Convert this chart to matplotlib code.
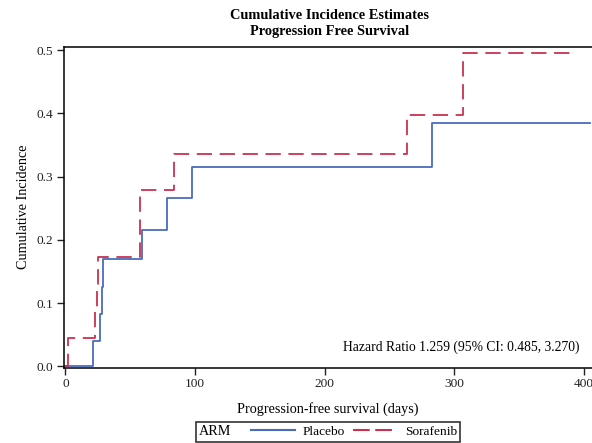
import matplotlib
matplotlib.use('Agg')
import matplotlib.pyplot as plt
from matplotlib.lines import Line2D
from matplotlib.offsetbox import HPacker

plt.rcParams['font.family'] = ['Liberation Serif', 'DejaVu Serif']
plt.rcParams['lines.scale_dashes'] = False

# cumulative incidence step points (days, estimate)
placebo_t = [0, 21, 26.6, 28, 29, 59.3, 78, 97.5, 282.8, 405]
placebo_ci = [0, 0.04, 0.082, 0.125, 0.169, 0.215, 0.266, 0.315, 0.385, 0.385]
sora_t = [0, 1.7, 22.8, 24, 25.3, 57.5, 83.8, 263.5, 307.2, 394.7]
sora_ci = [0, 0.044, 0.087, 0.13, 0.173, 0.278, 0.335, 0.398, 0.495, 0.495]

x_ticks = [0, 100, 200, 300, 400]
y_ticks = [0.0, 0.1, 0.2, 0.3, 0.4, 0.5]

blue = '#4a6cc0'
red = '#c8324e'
dash = (0, (11, 5.5))

fig = plt.figure(figsize=(5.92, 4.43), dpi=100)
ax = fig.add_axes([0.108, 0.1704, 0.892, 0.7236])

ax.step(placebo_t, placebo_ci, where='post', color=blue, lw=1.3)
ax.step(sora_t, sora_ci, where='post', color=red, lw=1.3, linestyle=dash)

ax.set_xlim(-1.2, 406.5)
ax.set_ylim(-0.002, 0.505)
ax.set_xticks(x_ticks)
ax.set_yticks(y_ticks)
ax.set_yticklabels([f'{v:.1f}' for v in y_ticks])
ax.tick_params(direction='out', length=5, width=1, labelsize=9.6, colors='#222222',
               pad=2.5)
for s in ['left', 'bottom', 'top']:
    ax.spines[s].set_linewidth(1.1)
ax.spines['right'].set_visible(False)

ax.set_xlabel('Progression-free survival (days)', fontsize=10.2, labelpad=9)
ax.set_ylabel('Cumulative Incidence', fontsize=10.2, labelpad=5)

fig.text(0.556, 0.964, 'Cumulative Incidence Estimates', ha='center', va='center',
         fontsize=10.4, fontweight='bold')
fig.text(0.556, 0.928, 'Progression Free Survival', ha='center', va='center',
         fontsize=10.4, fontweight='bold')

ax.text(0.977, 0.063, 'Hazard Ratio 1.259 (95% CI: 0.485, 3.270)', transform=ax.transAxes,
        ha='right', va='center', fontsize=9.8)

handles = [Line2D([], [], color=blue, lw=1.5),
           Line2D([], [], color=red, lw=1.5, linestyle=(0, (12, 4)))]
leg = fig.legend(handles, ['Placebo', 'Sorafenib'], title='ARM', ncol=2,
                 loc='lower center', bbox_to_anchor=(0.554, 0.0), fontsize=9.6,
                 title_fontsize=10.2, frameon=True, fancybox=False, edgecolor='black',
                 handlelength=3.3, columnspacing=0.6, handletextpad=0.6,
                 borderpad=0.25, borderaxespad=0.1)
leg.get_frame().set_linewidth(1.2)
# put the legend title on the left of the entries
box = HPacker(pad=leg._legend_box.pad, sep=14, align='center',
              children=[leg._legend_title_box, leg._legend_handle_box])
box.set_figure(fig)
box.set_offset(leg._findoffset)
leg._legend_box = box

fig.savefig('out.png', dpi=100)
